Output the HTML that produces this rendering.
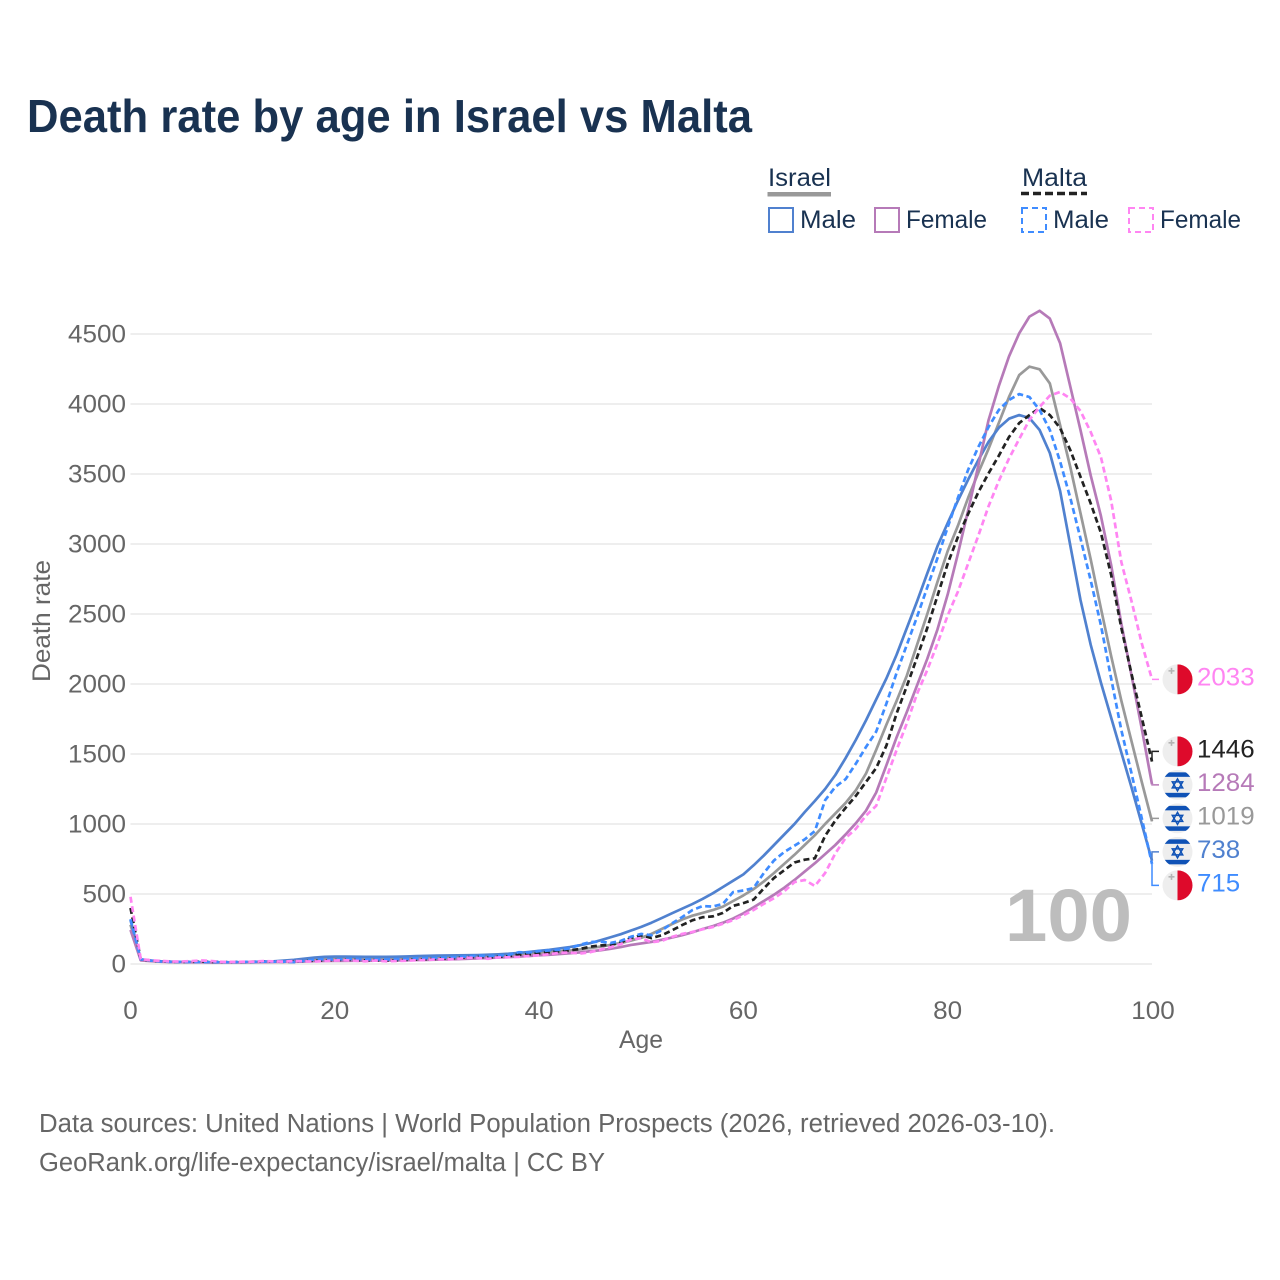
<!DOCTYPE html>
<html lang="en">
<head>
<meta charset="utf-8">
<title>Death rate by age in Israel vs Malta</title>
<style>
html,body{margin:0;padding:0;background:#fff;}
svg{display:block;}
text{font-family:"Liberation Sans",sans-serif;}
</style>
</head>
<body>
<svg id="chart" xmlns="http://www.w3.org/2000/svg" width="1280" height="1280" viewBox="0 0 1280 1280">
<rect width="1280" height="1280" fill="#ffffff"/>
<text x="27" y="132" font-size="46" font-weight="700" fill="#193251" textLength="725" lengthAdjust="spacingAndGlyphs">Death rate by age in Israel vs Malta</text>

<g>
<text x="768" y="186" font-size="25" fill="#193251" textLength="63" lengthAdjust="spacingAndGlyphs">Israel</text>
<rect x="767.5" y="192" width="63.5" height="4.5" fill="#999999"/>
<text x="1022" y="186" font-size="25" fill="#193251" textLength="65" lengthAdjust="spacingAndGlyphs">Malta</text>
<line x1="1021" y1="193.5" x2="1087" y2="193.5" stroke="#222222" stroke-width="3.5" stroke-dasharray="8 4"/>
<rect x="769" y="208" width="24" height="24" fill="none" stroke="#5081cf" stroke-width="2"/>
<text x="800" y="228" font-size="25" fill="#193251" textLength="56" lengthAdjust="spacingAndGlyphs">Male</text>
<rect x="875" y="208" width="24" height="24" fill="none" stroke="#b67ab8" stroke-width="2"/>
<text x="906" y="228" font-size="25" fill="#193251" textLength="81" lengthAdjust="spacingAndGlyphs">Female</text>
<rect x="1022" y="208" width="24" height="24" fill="none" stroke="#3f8cff" stroke-width="2" stroke-dasharray="6 4"/>
<text x="1053" y="228" font-size="25" fill="#193251" textLength="56" lengthAdjust="spacingAndGlyphs">Male</text>
<rect x="1129" y="208" width="24" height="24" fill="none" stroke="#ff85f2" stroke-width="2" stroke-dasharray="6 4"/>
<text x="1160" y="228" font-size="25" fill="#193251" textLength="81" lengthAdjust="spacingAndGlyphs">Female</text>
</g>

<g id="grid"></g>
<text x="1132" y="941" text-anchor="end" font-size="74" font-weight="700" fill="#bdbdbd" textLength="127" lengthAdjust="spacingAndGlyphs">100</text>
<g id="yticks"></g>
<g id="xticks"></g>
<text x="641" y="1048" text-anchor="middle" font-size="25" fill="#666666" textLength="44" lengthAdjust="spacingAndGlyphs">Age</text>
<text transform="translate(50,621) rotate(-90)" text-anchor="middle" font-size="25" fill="#666666" textLength="122" lengthAdjust="spacingAndGlyphs">Death rate</text>
<g id="series"></g>
<g id="labels"></g>

<text x="39" y="1132" font-size="25.5" fill="#666666" textLength="1016" lengthAdjust="spacingAndGlyphs">Data sources: United Nations | World Population Prospects (2026, retrieved 2026-03-10).</text>
<text x="39" y="1171" font-size="25.5" fill="#666666" textLength="566" lengthAdjust="spacingAndGlyphs">GeoRank.org/life-expectancy/israel/malta | CC BY</text>
</svg>
<script>
const xTicks = [0, 20, 40, 60, 80, 100];
const yTicks = [0, 500, 1000, 1500, 2000, 2500, 3000, 3500, 4000, 4500];

const israelTotal = [280,30,22,18,15,14,13,13,12,12,12,12,13,14,16,19,23,28,33,37,38,38,38,38,38,39,40,41,42,44,46,47,48,50,52,55,57,60,65,71,78,84,90,96,104,114,124,136,150,167,187,215,250,285,318,345,365,385,410,450,490,535,590,650,715,780,850,920,1000,1075,1150,1240,1360,1530,1710,1880,2060,2280,2500,2730,2950,3130,3330,3510,3680,3864,4050,4207,4267,4248,4147,3850,3550,3220,2890,2540,2200,1880,1590,1300,1019];
const israelMale = [314,32,24,19,16,14,13,13,12,12,12,13,14,16,19,24,30,38,46,51,53,53,52,51,51,51,52,54,56,58,60,61,62,63,64,66,69,73,79,86,94,101,111,121,134,149,169,191,213,239,265,295,328,362,395,428,465,505,550,595,640,705,775,850,925,1000,1085,1165,1250,1350,1470,1600,1740,1890,2040,2210,2400,2590,2790,2985,3150,3310,3460,3600,3730,3830,3895,3921,3900,3814,3650,3380,2990,2600,2280,2010,1760,1510,1260,1000,738];
const israelFemale = [243,26,20,16,14,13,12,12,11,11,11,11,12,13,14,15,16,18,20,21,22,22,23,23,24,25,26,27,28,29,31,33,35,37,40,43,46,49,53,57,62,66,71,77,83,91,98,109,121,136,147,158,173,189,206,226,250,270,295,325,362,405,450,495,545,600,660,720,785,850,925,1005,1095,1225,1420,1620,1800,1990,2180,2390,2640,2930,3240,3560,3885,4127,4340,4505,4624,4666,4610,4435,4125,3814,3490,3200,2850,2430,2060,1680,1284];
const maltaTotal = [400,34,24,19,16,15,16,17,15,14,14,15,16,18,17,16,16,20,24,26,28,30,29,26,28,25,27,29,32,34,37,39,42,48,50,46,52,55,67,69,77,84,91,98,107,124,132,137,154,187,205,185,205,240,278,312,334,340,365,415,435,460,540,615,670,725,745,755,915,1025,1115,1200,1300,1400,1560,1790,1985,2190,2400,2630,2860,3050,3215,3370,3505,3630,3764,3864,3921,3971,3921,3828,3671,3480,3290,3080,2780,2400,2070,1760,1446];
const maltaMale = [320,34,24,18,15,15,14,14,14,13,13,15,15,17,17,17,13,22,32,34,32,35,37,32,34,32,35,36,40,42,44,47,50,54,60,57,60,64,84,82,92,97,102,112,137,157,160,150,165,195,215,205,240,290,335,385,414,410,430,514,525,543,650,740,800,845,890,950,1170,1265,1320,1430,1550,1660,1860,2080,2280,2480,2690,2900,3120,3330,3530,3693,3836,3957,4029,4071,4050,3957,3814,3590,3330,3040,2740,2420,2040,1670,1360,1040,715];
const maltaFemale = [480,36,26,22,18,18,21,25,21,15,15,16,17,21,19,17,21,19,17,21,25,27,23,19,25,19,21,23,27,29,33,33,37,45,43,37,47,48,51,58,63,70,80,82,74,84,102,120,142,175,185,155,165,193,215,229,248,264,288,314,348,386,430,470,520,585,600,557,650,790,900,965,1060,1130,1330,1529,1720,1930,2100,2290,2490,2660,2860,3060,3270,3450,3610,3750,3886,3979,4060,4086,4040,3950,3800,3620,3310,2870,2590,2290,2033];

const NS = 'http://www.w3.org/2000/svg';
const X0 = 130.5, X1 = 1152, XMAX = 100;
const Y0 = 964, YPX = 0.14;
function xScale(age) { return X0 + (X1 - X0) * age / XMAX; }
function yScale(v) { return Y0 - v * YPX; }
function make(tag, attrs, parent) {
  const el = document.createElementNS(NS, tag);
  for (const k in attrs) el.setAttribute(k, attrs[k]);
  parent.appendChild(el);
  return el;
}

const grid = document.getElementById('grid');
const yTickGroup = document.getElementById('yticks');
const xTickGroup = document.getElementById('xticks');

yTicks.forEach(function (t) {
  const line = make('line', {x1: X0, x2: X1, y1: yScale(t), y2: yScale(t), stroke: '#e8e8e8', 'stroke-width': 1.5}, grid);
  
  
  const s = String(t);
  const label = make('text', {x: 126, y: yScale(t) + 8.5, 'text-anchor': 'end', 'font-size': 25, fill: '#666666', textLength: s.length * 14.5, lengthAdjust: 'spacingAndGlyphs'}, yTickGroup);
  
  
  label.textContent = s;
});

xTicks.forEach(function (t) {
  const s = String(t);
  const label = make('text', {x: xScale(t) + (t === 100 ? 1 : 0), y: 1019, 'text-anchor': 'middle', 'font-size': 25, fill: '#666666', textLength: s.length * 14.5, lengthAdjust: 'spacingAndGlyphs'}, xTickGroup);
  
  
  label.textContent = s;
});

const seriesList = [
  {name: 'israel-total', values: israelTotal, color: '#999999', dash: null, country: 'il', tone: '#999999'},
  {name: 'israel-male', values: israelMale, color: '#5081cf', dash: null, country: 'il', tone: '#5081cf'},
  {name: 'israel-female', values: israelFemale, color: '#b67ab8', dash: null, country: 'il', tone: '#b67ab8'},
  {name: 'malta-total', values: maltaTotal, color: '#222222', dash: '6 3.5', country: 'mt', tone: '#222222'},
  {name: 'malta-male', values: maltaMale, color: '#3f8cff', dash: '6 3.5', country: 'mt', tone: '#3f8cff'},
  {name: 'malta-female', values: maltaFemale, color: '#ff85f2', dash: '6 3.5', country: 'mt', tone: '#ff85f2'}
];

const seriesGroup = document.getElementById('series');
seriesList.forEach(function (s) {
  const pts = s.values.map(function (v, i) { return xScale(i).toFixed(2) + ',' + yScale(v).toFixed(2); }).join(' ');
  const attrs = {points: pts, fill: 'none', stroke: s.color, 'stroke-width': 2.7, 'stroke-linejoin': 'round'};
  if (s.dash) attrs['stroke-dasharray'] = s.dash;
  const line = make('polyline', attrs, seriesGroup);
  
  
});

/* end labels: spread overlapping labels into centred clusters */
const GAP = 33.5;
const order = seriesList.slice().sort(function (a, b) {
  return b.values[b.values.length - 1] - a.values[a.values.length - 1];
});
let clusters = order.map(function (s) {
  return {items: [s], sum: yScale(s.values[s.values.length - 1])};
});
let merged = true;
function clusterTop(c) {
  return c.sum / c.items.length - (c.items.length - 1) * GAP / 2;
}
while (merged) {
  merged = false;
  for (let i = 0; i < clusters.length - 1; i++) {
    const a = clusters[i], b = clusters[i + 1];
    if (clusterTop(a) + a.items.length * GAP > clusterTop(b)) {
      clusters.splice(i, 2, {items: a.items.concat(b.items), sum: a.sum + b.sum});
      merged = true;
      break;
    }
  }
}

const labelGroup = document.getElementById('labels');
const defs = make('defs', {}, labelGroup);
const clip = make('clipPath', {id: 'flag-clip'}, defs);
make('circle', {cx: 0, cy: 0, r: 15}, clip);

function drawFlag(country, cy) {
  const g = make('g', {transform: 'translate(1177.5,' + cy + ')', 'clip-path': 'url(#flag-clip)'}, labelGroup);
  make('rect', {x: -15, y: -15, width: 30, height: 30, fill: '#eeeeee'}, g);
  if (country === 'mt') {
    
    
    make('rect', {x: 0, y: -15, width: 15, height: 30, fill: '#de0a2b'}, g);
    make('path', {d: 'M-6-11.5v6M-9-8.5h6', stroke: '#b4b4b4', 'stroke-width': 1.6, fill: 'none'}, g);
  } else {
    
    
    make('rect', {x: -15, y: -12.5, width: 30, height: 4.5, fill: '#0f52b6'}, g);
    make('rect', {x: -15, y: 8, width: 30, height: 4.5, fill: '#0f52b6'}, g);
    make('path', {d: 'M0-6L5.2 3H-5.2ZM0 6L5.2-3H-5.2Z', stroke: '#0f52b6', 'stroke-width': 1.5, fill: 'none'}, g);
  }
}

clusters.forEach(function (c) {
  const top = clusterTop(c);
  c.items.forEach(function (s, i) {
    const cy = top + i * GAP;
    const endVal = s.values[s.values.length - 1];
    const endY = yScale(endVal);
    const conn = make('polyline', {points: X1 + ',' + endY + ' ' + X1 + ',' + cy + ' 1159,' + cy, fill: 'none', stroke: s.color, 'stroke-width': 1.5}, labelGroup);
    
    
    drawFlag(s.country, cy);
    const txt = String(endVal);
    const label = make('text', {x: 1197, y: cy + 6, 'font-size': 25, fill: s.tone, textLength: txt.length * 14.4, lengthAdjust: 'spacingAndGlyphs'}, labelGroup);
    
    
    label.textContent = txt;
  });
});
</script>
</body>
</html>
